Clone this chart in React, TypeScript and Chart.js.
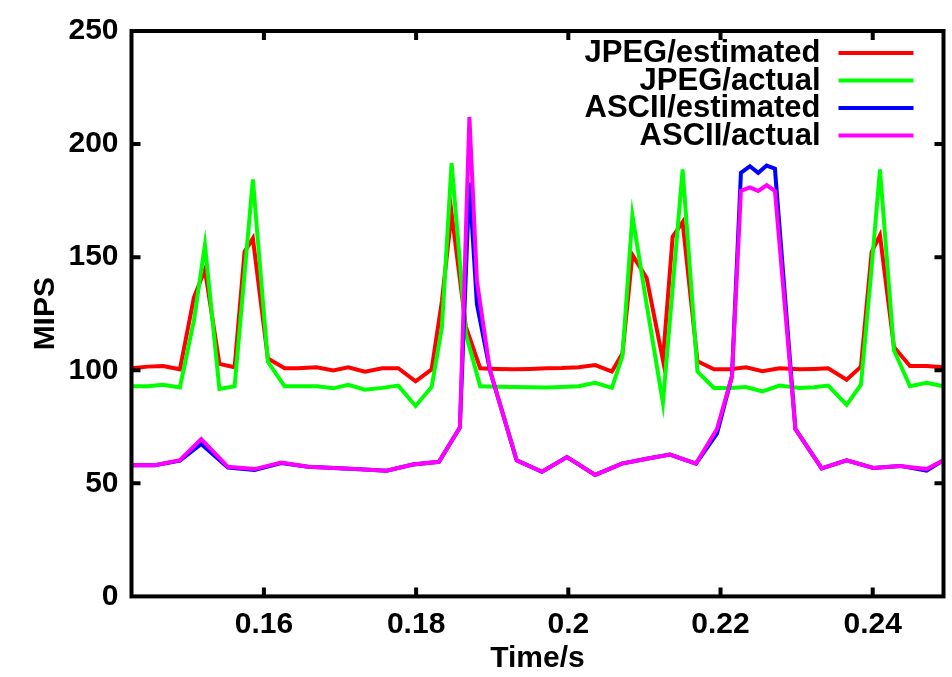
import React, { useEffect, useRef } from "react";
import { Chart, registerables } from "chart.js";

Chart.register(...registerables);

// ---- data ----
const jpegTime = [
  0.1426, 0.14475, 0.14673, 0.14896, 0.1508, 0.15225, 0.15415, 0.15615, 0.15746, 0.15855,
  0.16052, 0.16272, 0.16447, 0.16692, 0.16911, 0.17108, 0.17327, 0.17554, 0.17765, 0.17993,
  0.18204, 0.18339, 0.18466, 0.18654, 0.18842, 0.19062, 0.19281, 0.19495, 0.19719, 0.19916,
  0.20135, 0.20353, 0.20573, 0.20711, 0.20842, 0.21029, 0.21243, 0.21371, 0.21502, 0.21697,
  0.21913, 0.22124, 0.22334, 0.22551, 0.22774, 0.23037, 0.23227, 0.23415, 0.23657, 0.23845,
  0.23986, 0.24095, 0.24279, 0.24489, 0.24708, 0.2493,
];
const jpegEstimated = [
  100.9, 101.6, 101.9, 100.4, 132.1, 144.5, 102.8, 101.3, 152.4, 158.3,
  105.2, 100.9, 100.9, 101.3, 99.9, 101.3, 99.4, 100.9, 100.9, 95.1,
  100.4, 130.6, 169.5, 119.2, 100.9, 100.6, 100.4, 100.6, 100.9, 101.0,
  101.3, 102.3, 99.4, 107.4, 151.0, 140.8, 104.5, 159.0, 165.5, 104.0,
  100.4, 100.4, 101.3, 99.6, 100.9, 100.4, 100.6, 100.9, 95.8, 101.6,
  152.4, 159.7, 110.3, 101.9, 101.9, 101.3,
];
const jpegActual = [
  92.9, 92.9, 93.6, 92.4, 121.9, 155.4, 91.7, 92.9, 142.8, 184.4,
  103.7, 92.9, 92.9, 92.9, 92.0, 93.6, 91.4, 92.2, 93.2, 84.2,
  92.6, 119.0, 191.7, 116.0, 92.9, 92.7, 92.6, 92.5, 92.4, 92.6,
  92.9, 94.4, 92.2, 106.2, 168.4, 129.1, 85.6, 136.4, 188.8, 99.4,
  92.2, 92.2, 92.6, 90.6, 93.2, 92.2, 92.5, 93.2, 84.7, 93.6,
  145.6, 188.8, 108.8, 92.9, 94.4, 92.9,
];
const asciiTime = [
  0.1426, 0.14567, 0.14896, 0.15176, 0.15527, 0.15878, 0.16227, 0.16578, 0.1692, 0.17261,
  0.17612, 0.17958, 0.183, 0.18575, 0.187, 0.18799, 0.1897, 0.19321, 0.19653, 0.19982,
  0.20353, 0.20704, 0.21029, 0.21335, 0.21677, 0.21953, 0.2215, 0.22268, 0.22386, 0.22495,
  0.22606, 0.22715, 0.22984, 0.23329, 0.23657, 0.24007, 0.24358, 0.24708, 0.2493,
];
const asciiEstimated = [
  58.0, 58.0, 60.0, 67.4, 57.0, 55.9, 59.0, 57.3, 56.8, 56.2,
  55.6, 58.3, 59.5, 74.7, 183.0, 129.2, 100.0, 60.2, 55.1, 61.6,
  53.7, 58.7, 60.9, 62.7, 58.7, 72.0, 97.3, 187.3, 190.2, 187.3,
  190.5, 189.1, 74.0, 56.6, 60.2, 56.8, 57.7, 55.6, 60.2,
];
const asciiActual = [
  58.0, 58.0, 60.2, 69.6, 57.3, 56.3, 59.2, 57.3, 56.8, 56.2,
  55.6, 58.3, 59.5, 74.7, 212.0, 139.4, 100.0, 60.2, 55.1, 61.6,
  53.7, 58.7, 60.9, 62.7, 58.7, 74.0, 97.3, 179.3, 180.8, 179.3,
  181.8, 179.3, 74.0, 56.6, 60.2, 56.8, 57.7, 56.3, 60.2,
];

const seriesLabels = ["JPEG/estimated", "JPEG/actual", "ASCII/estimated", "ASCII/actual"];
const seriesColors = ["#ff0000", "#00ff00", "#0000ff", "#ff00ff"];
const xTickValues = [0.16, 0.18, 0.2, 0.22, 0.24];
const xTickLabels = ["0.16", "0.18", "0.2", "0.22", "0.24"];
const yTickValues = [0, 50, 100, 150, 200, 250];
const xRange = [0.1426, 0.2493];
const yRange = [0, 250];
const xTitle = "Time/s";
const yTitle = "MIPS";

const FONT = '"Liberation Sans", Arial, Helvetica, sans-serif';

const framePlugin = {
  id: "gnuFrame",
  afterDatasetsDraw(chart: any) {
    const { ctx, chartArea: a, scales } = chart;
    ctx.save();
    ctx.strokeStyle = "#000";
    ctx.lineWidth = 4;
    ctx.lineCap = "butt";
    const L = 9;
    ctx.beginPath();
    scales.y.ticks.forEach((t: any) => {
      const y = scales.y.getPixelForValue(t.value);
      if (y > a.top + 2 && y < a.bottom - 2) {
        ctx.moveTo(a.left, y);
        ctx.lineTo(a.left + L, y);
        ctx.moveTo(a.right, y);
        ctx.lineTo(a.right - L, y);
      }
    });
    scales.x.ticks.forEach((t: any) => {
      const x = scales.x.getPixelForValue(t.value);
      if (x > a.left + 2 && x < a.right - 2) {
        ctx.moveTo(x, a.bottom);
        ctx.lineTo(x, a.bottom - L);
        ctx.moveTo(x, a.top);
        ctx.lineTo(x, a.top + L);
      }
    });
    ctx.stroke();
    ctx.strokeRect(a.left, a.top, a.right - a.left, a.bottom - a.top);
    ctx.restore();
  },
};

const keyPlugin = {
  id: "gnuKey",
  afterDraw(chart: any) {
    const { ctx, chartArea: a } = chart;
    ctx.save();
    ctx.font = `bold 31px ${FONT}`;
    ctx.textAlign = "right";
    ctx.textBaseline = "alphabetic";
    const textRight = a.right - 123;
    const lineL = a.right - 105;
    const lineR = a.right - 30;
    chart.data.datasets.forEach((ds: any, i: number) => {
      const y = a.top + 22 + i * 27.5;
      ctx.fillStyle = "#000";
      ctx.fillText(ds.label, textRight, y + 9);
      ctx.strokeStyle = ds.borderColor;
      ctx.lineWidth = 4;
      ctx.beginPath();
      ctx.moveTo(lineL, y);
      ctx.lineTo(lineR, y);
      ctx.stroke();
    });
    ctx.restore();
  },
};

export default function App() {
  const ref = useRef<HTMLCanvasElement>(null);
  useEffect(() => {
    if (!ref.current) return;
    const times = [jpegTime, jpegTime, asciiTime, asciiTime];
    const values = [jpegEstimated, jpegActual, asciiEstimated, asciiActual];
    const chart = new Chart(ref.current, {
      type: "line",
      data: {
        datasets: seriesLabels.map((label, i) => ({
          label,
          data: times[i].map((t, j) => ({ x: t, y: values[i][j] })),
          borderColor: seriesColors[i],
          backgroundColor: seriesColors[i],
          borderWidth: 4,
          pointRadius: 0,
          tension: 0,
          fill: false,
          borderJoinStyle: "miter" as const,
          order: 3 - i,
        })),
      },
      options: {
        animation: false,
        responsive: false,
        devicePixelRatio: 1,
        events: [],
        layout: { padding: { left: 0, top: 23, right: 8.5, bottom: 0 } },
        plugins: { legend: { display: false }, tooltip: { enabled: false } },
        scales: {
          x: {
            type: "linear",
            min: xRange[0],
            max: xRange[1],
            grid: { display: false, drawTicks: false },
            border: { display: false },
            afterBuildTicks: (s: any) => {
              s.ticks = xTickValues.map((v) => ({ value: v }));
            },
            afterFit: (s: any) => {
              s.height = 80.6;
            },
            ticks: {
              padding: 10,
              color: "#000",
              maxRotation: 0,
              autoSkip: false,
              font: { family: FONT, size: 30, weight: "bold" },
              callback: (v: any) => {
                const k = xTickValues.findIndex((t) => Math.abs(t - Number(v)) < 1e-9);
                return k >= 0 ? xTickLabels[k] : "";
              },
            },
            title: {
              display: true,
              text: xTitle,
              color: "#000",
              padding: { top: 0, bottom: 0 },
              font: { family: FONT, size: 30, weight: "bold" },
            },
          },
          y: {
            type: "linear",
            min: yRange[0],
            max: yRange[1],
            grid: { display: false, drawTicks: false },
            border: { display: false },
            afterBuildTicks: (s: any) => {
              s.ticks = yTickValues.map((v) => ({ value: v }));
            },
            afterFit: (s: any) => {
              s.width = 131.5;
            },
            ticks: {
              padding: 13,
              color: "#000",
              autoSkip: false,
              font: { family: FONT, size: 30, weight: "bold" },
              callback: (v: any) => String(v),
            },
            title: {
              display: true,
              text: yTitle,
              color: "#000",
              padding: { top: 28, bottom: 0 },
              font: { family: FONT, size: 30, weight: "bold" },
            },
          },
        },
      },
      plugins: [framePlugin, keyPlugin],
    });
    return () => chart.destroy();
  }, []);
  return (
    <div style={{ position: "fixed", left: 0, top: 0, width: 952, height: 677, background: "#fff" }}>
      <canvas ref={ref} width={952} height={677} style={{ display: "block" }} />
    </div>
  );
}
